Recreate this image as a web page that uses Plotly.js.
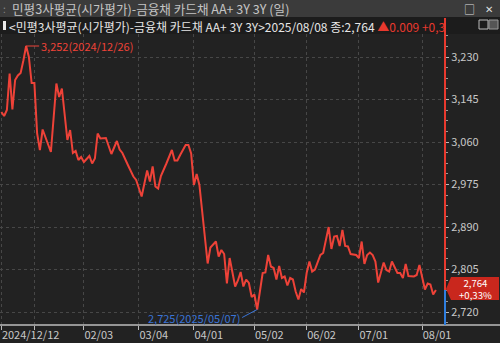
<!DOCTYPE html>
<html><head><meta charset="utf-8">
<script src="https://cdn.plot.ly/plotly-3.0.1.min.js"></script>
<style>html,body{margin:0;padding:0;background:#222222;overflow:hidden}#c{width:500px;height:343px;}</style>
</head><body><div id="c"></div>
<script>
// trading-day index (0 = 2024/12/12) and yield values (%)
const days = [0,1,2,3,4,5,6,7,8,9,10,11,12,13,14,15,16,18,20,21,22,23,24,25,26,27,28,29,30,32,33,34,35,36,38,40,42,43,44,46,48,49,51,53,54,55,56,57,58,60,61,62,63,64,65,67,68,69,70,71,72,73,74,75,76,78,79,80,81,82,83,85,86,87,88,89,90,91,92,93,94,95,96,97,98,99,100,101,102,103,104,105,106,107,108,109,110,111,112,113,114,116,117,118,119,120,121,122,123,124,125,126,127,129,130,131,132,133,134,135,136,137,139,140,141,142,143,144,145,146,147,148,150,151,152,154,155,156,157,158];
const values = [3.120,3.112,3.124,3.197,3.125,3.184,3.193,3.198,3.223,3.252,3.230,3.178,3.178,3.077,3.044,3.085,3.070,3.040,3.177,3.150,3.167,3.117,3.064,3.084,3.038,3.042,3.024,3.030,3.020,3.032,3.017,3.027,3.077,3.067,3.068,3.036,3.062,3.045,3.038,3.014,2.991,2.984,2.951,3.003,2.981,3.011,2.971,2.967,2.992,3.017,3.029,3.044,3.023,3.023,3.034,3.054,3.054,3.037,2.974,2.996,2.974,2.924,2.861,2.817,2.849,2.861,2.831,2.844,2.836,2.777,2.828,2.771,2.783,2.800,2.771,2.785,2.778,2.750,2.755,2.725,2.761,2.798,2.799,2.834,2.811,2.808,2.785,2.812,2.788,2.791,2.773,2.788,2.785,2.761,2.745,2.766,2.759,2.798,2.821,2.801,2.805,2.834,2.838,2.866,2.890,2.846,2.871,2.872,2.852,2.884,2.852,2.851,2.836,2.834,2.828,2.861,2.816,2.834,2.839,2.834,2.821,2.779,2.819,2.804,2.801,2.821,2.810,2.798,2.798,2.788,2.816,2.792,2.791,2.794,2.814,2.765,2.777,2.775,2.755,2.764];
const tickDays = [0,12,30,50,70,92,111,130,153];
const tickLabels = ["2024/12/12","","02/03","03/04","04/01","05/02","06/02","07/01","08/01"];
const yTicks = [2.720,2.805,2.890,2.975,3.060,3.145,3.230];
const windowTitle = "민평3사평균(시가평가)-금융채 카드채 AA+ 3Y 3Y (일)";
const seriesName = "민평3사평균(시가평가)-금융채 카드채 AA+ 3Y 3Y";
const lastDate = "2025/08/08";
const maxDate = "2024/12/26";
const minDate = "2025/05/07";

const Y0 = 2.694, Y1 = 3.276;
const n = values.length;
const last = values[n-1], prev = values[n-2];
const chg = last - prev;
const pct = chg / prev * 100;
const fmt = v => v.toFixed(3).replace('.', ',');
let iMax = 0, iMin = 0;
values.forEach((v,i)=>{ if(v>values[iMax]) iMax=i; if(v<values[iMin]) iMin=i; });

const W = 445, PY = (py) => (325 - py) / 291, PX = (px) => px / W;
const lastP = (last - Y0) / (Y1 - Y0);
const lastPy = 325 - lastP * 291;
const FONT = "'Noto Sans CJK KR', 'DejaVu Sans', sans-serif";
const RED = '#ee4238', BLUE = '#3a74d6';

const trace = {x: days, y: values, type: 'scatter', mode: 'lines',
  line: {color: RED, width: 2}, hoverinfo: 'skip'};

const boxTop = lastPy - 13, boxBot = lastPy + 10;
const boxPath = 'M ' + PX(446) + ',' + PY(lastPy - 1) + ' L ' + PX(451) + ',' + PY(boxTop) +
  ' L ' + PX(499) + ',' + PY(boxTop) + ' L ' + PX(499) + ',' + PY(boxBot) +
  ' L ' + PX(451) + ',' + PY(boxBot) + ' Z';

const shapes = [
  {type:'rect', xref:'paper', yref:'paper', x0:0, x1:PX(500), y0:PY(17), y1:PY(0), fillcolor:'#3b3b3b', line:{width:0}, layer:'below'},
  {type:'rect', xref:'paper', yref:'paper', x0:0, x1:PX(500), y0:PY(34), y1:PY(17), fillcolor:'#1c1c1c', line:{width:0}, layer:'below'},
  {type:'rect', xref:'paper', yref:'paper', x0:PX(3), x1:PX(6), y0:PY(30), y1:PY(21), fillcolor:'#e8e8e8', line:{width:0}},
  {type:'rect', xref:'paper', yref:'paper', x0:PX(479), x1:PX(488), y0:PY(29), y1:PY(20), fillcolor:'rgba(0,0,0,0)', line:{color:'#bbbbbb', width:1}},
  {type:'rect', xref:'paper', yref:'paper', x0:PX(489), x1:PX(498), y0:PY(29), y1:PY(20), fillcolor:'#555555', line:{color:'#999999', width:1}},
  {type:'line', xref:'paper', yref:'paper', x0:0, x1:PX(500), y0:0, y1:0, line:{color:'#bdbdbd', width:1.5}},
  {type:'line', xref:'paper', yref:'paper', x0:1, x1:1, y0:lastP, y1:PY(18), line:{color:'#e8392e', width:2}},
  {type:'line', xref:'paper', yref:'paper', x0:1, x1:1, y0:0, y1:lastP, line:{color:'#2f7fe0', width:2}},
  {type:'path', xref:'paper', yref:'paper', path:boxPath, fillcolor:'#c9271d', line:{width:0}}
];

const annotations = [
  {xref:'paper', yref:'paper', x:PX(1), y:PY(8.5), xanchor:'left', yanchor:'middle', showarrow:false, text:':', font:{family:FONT, size:10, color:'#888888'}},
  {xref:'paper', yref:'paper', x:PX(10), y:PY(8.5), xanchor:'left', yanchor:'middle', showarrow:false, text:windowTitle, font:{family:FONT, size:12.6, color:'#c4c4c4'}},
  {xref:'paper', yref:'paper', x:PX(469), y:PY(8.5), xanchor:'center', yanchor:'middle', showarrow:false, text:'□', font:{family:FONT, size:11, color:'#dddddd'}},
  {xref:'paper', yref:'paper', x:PX(489), y:PY(8.5), xanchor:'center', yanchor:'middle', showarrow:false, text:'✕', font:{family:FONT, size:10, color:'#dddddd'}},
  {xref:'paper', yref:'paper', x:PX(7), y:PY(26.5), xanchor:'left', yanchor:'middle', showarrow:false, width:437, align:'left',
   text:'&lt;' + seriesName + '&gt;' + lastDate + ' 종:' + fmt(last) + ' <span style="color:#e8392e">▲' + chg.toFixed(3) + ' +' + pct.toFixed(2).replace('.', ',') + '%</span>',
   font:{family:FONT, size:12, color:'#e6e6e6'}},
  {x:days[iMax], y:values[iMax], xref:'x', yref:'y', text:fmt(values[iMax]) + '(' + maxDate + ')', showarrow:true, arrowhead:0, arrowwidth:1, arrowcolor:RED,
   ax:13, ay:0, xanchor:'left', yanchor:'middle', font:{family:FONT, size:11, color:RED}},
  {x:days[iMin], y:values[iMin], xref:'x', yref:'y', text:fmt(values[iMin]) + '(' + minDate + ')', showarrow:true, arrowhead:0, arrowwidth:1, arrowcolor:BLUE,
   ax:-15, ay:8, xanchor:'right', yanchor:'middle', font:{family:FONT, size:11, color:BLUE}},
  {xref:'paper', yref:'paper', x:PX(475), y:PY(lastPy - 1.5), xanchor:'center', yanchor:'middle', showarrow:false, align:'center',
   text:fmt(last) + '<br>+' + pct.toFixed(2).replace('.', ',') + '%', font:{family:FONT, size:9.6, color:'#ffffff'}}
];

const layout = {
  width:500, height:343,
  margin:{l:0, r:55, t:34, b:18, pad:0},
  paper_bgcolor:'#222222', plot_bgcolor:'#222222',
  showlegend:false,
  separators:',.',
  font:{family:FONT, color:'#c8c8c8', size:11},
  xaxis:{range:[-0.5, 161.3], tickmode:'array', tickvals:tickDays, ticktext:tickLabels,
    ticks:'outside', ticklen:4, tickcolor:'#bbbbbb', ticklabelposition:'outside right',
    showgrid:true, gridcolor:'#474747', griddash:'3px,3px', gridwidth:1,
    zeroline:false, showline:false, tickfont:{family:FONT, size:11, color:'#c8c8c8'}},
  yaxis:{range:[Y0, Y1], side:'right', tickmode:'array', tickvals:yTicks, ticktext:yTicks.map(fmt),
    ticks:'outside', ticklen:3, tickcolor:'#bbbbbb',
    minor:{tickmode:'linear', tick0:2.720, dtick:0.02125, ticks:'outside', ticklen:2, tickcolor:'#999999', showgrid:false},
    showgrid:true, gridcolor:'#474747', griddash:'3px,3px', gridwidth:1,
    zeroline:false, showline:false, tickfont:{family:FONT, size:11, color:'#c8c8c8'}},
  shapes: shapes,
  annotations: annotations
};

Plotly.newPlot('c', [trace], layout, {staticPlot:true, displayModeBar:false});
</script>
</body></html>
